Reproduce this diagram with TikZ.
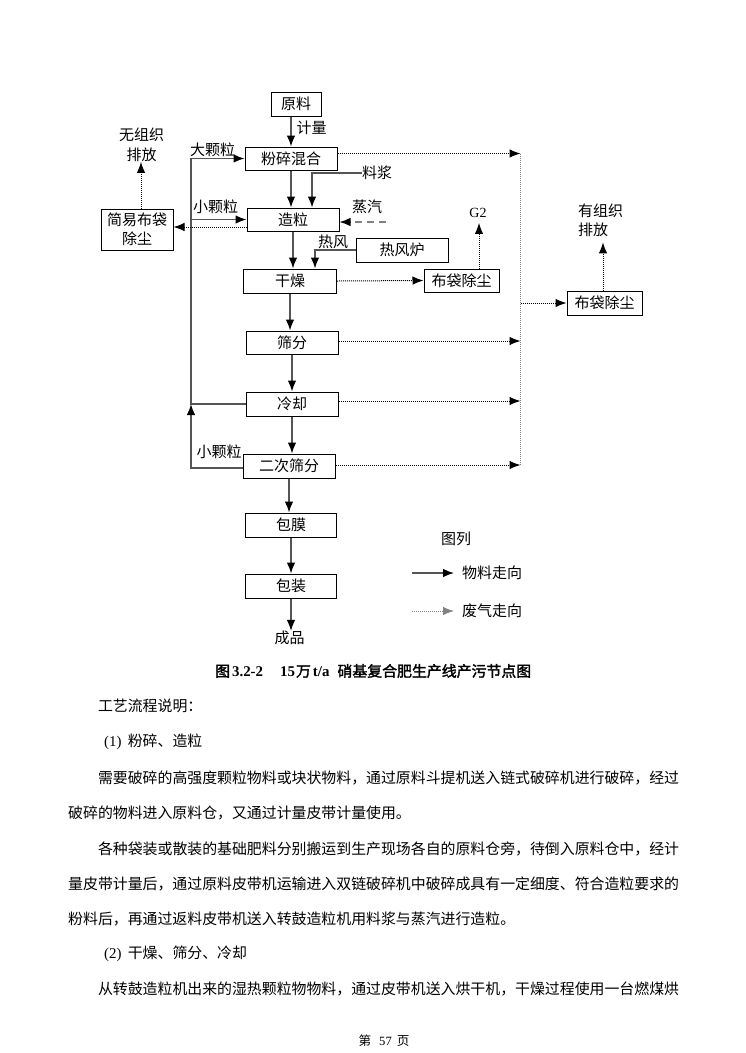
\documentclass[tikz,border=0pt]{standalone}
\usepackage{fontspec}
\setmainfont{Liberation Serif}
\newfontfamily\cjk{Noto Sans CJK SC}
\newfontfamily\cjkbold[FakeBold=2]{Noto Sans CJK SC}
\usepackage{tikz}
\usetikzlibrary{positioning, calc, arrows.meta}
\definecolor{lineGray}{RGB}{85,85,85}
\definecolor{dotGray}{RGB}{130,130,130}
\newcommand{\diagfont}{\cjk\fontsize{15}{19.5}\selectfont}
\newcommand{\bodyfont}{\cjk\fontsize{14.9}{17}\selectfont}
\tikzset{
  procBox/.style={draw=black, line width=1pt, minimum width=92pt, minimum height=24pt,
                  inner sep=0pt, font=\diagfont},
  tag/.style={inner sep=0pt, font=\diagfont},
  flowArrow/.style={draw=lineGray, line width=1.3pt, -{Latex[length=11pt,width=8.5pt,color=black]}},
  gasArrow/.style={draw=black, line width=1pt, dash pattern=on 1pt off 1pt,
                   -{Latex[length=11pt,width=8.5pt]}},
  dotLine/.style={draw=dotGray, line width=1.2pt, dash pattern=on 1pt off 1pt},
  bodyLine/.style={anchor=west, inner sep=0pt, font=\bodyfont},
}

\begin{document}
\begin{tikzpicture}[x=1pt, y=-1pt]
        \useasboundingbox (0,0) rectangle (745,1053);
        % main column
        \node[procBox, minimum width=50pt] (yuanliao) at (296,104) {原料};
        \node[procBox, minimum height=23pt] (fensui) at (291,158.5) {粉碎混合};
        \node[procBox, minimum height=23pt] (zaoli) at (293,219.5) {造粒};
        \node[procBox, minimum width=93pt] (ganzao) at (290,281) {干燥};
        \node[procBox, minimum height=23pt] (shaifen) at (292,342.5) {筛分};
        \node[procBox] (lengque) at (292,404) {冷却};
        \node[procBox] (erci) at (289,466) {二次筛分};
        \node[procBox, minimum width=91pt] (baomo) at (291,525) {包膜};
        \node[procBox, minimum width=91pt] (baozhuang) at (291,586) {包装};
        \node[tag] (chengpin) at (289.5,638) {成品};
        \node[tag] (jiliang) at (311.5,128) {计量};
        \draw[flowArrow] (yuanliao.south -| fensui.north) -- (fensui.north);
        \foreach \a/\b in {fensui/zaoli, zaoli/ganzao, ganzao/shaifen, shaifen/lengque,
                           lengque/erci, erci/baomo, baomo/baozhuang} {
          \draw[flowArrow] (\a.south) -- (\a.south |- \b.north);
        }
        \draw[flowArrow] (baozhuang.south) -- (baozhuang.south |- chengpin.north);

        % side feeds
        \node[tag] (liaojiang) at (377,173) {料浆};
        \draw[flowArrow] (liaojiang.west) -| ([xshift=19]zaoli.north);
        \node[tag] (zhengqi) at (367,207) {蒸汽};
        \coordinate (steam) at (386,222);
        \draw[draw=dotGray, line width=1.3pt, dash pattern=on 7pt off 5pt,
              -{Latex[length=11pt,width=8.5pt,color=black]}] (steam) -- (steam -| zaoli.east);
        \node[procBox, minimum width=92pt] (refenglu) at (402,250) {热风炉};
        \node[tag] (refeng) at (333,242) {热风};
        \draw[flowArrow] (refenglu.west) -| ([xshift=25]ganzao.north);

        % returns on the left
        \coordinate (ltop) at (191,158.5);
        \node[tag] (dakeli) at (212.5,150) {大颗粒};
        \node[tag] (xiaokeli) at (215.5,207) {小颗粒};
        \node[tag] (xiaokeli2) at (219,452) {小颗粒};
        \draw[flowArrow] (lengque.west) -| (ltop) -- (fensui.west);
        \draw[flowArrow] (ltop |- zaoli.west) -- (zaoli.west);
        \draw[flowArrow] ([yshift=-2]erci.west) -| (ltop |- lengque.west);

        % dust removal
        \node[procBox, minimum width=72pt, minimum height=41pt, align=center] (jybd) at (137,229.5) {简易布袋\\除尘};
        \node[tag, align=center] (wuzuzhi) at (141.5,145) {无组织\\排放};
        \draw[gasArrow] ([yshift=-7.5]zaoli.west) -- ([yshift=-7.5]zaoli.west -| jybd.east);
        \draw[gasArrow] ([xshift=4]jybd.north) -- ([xshift=4]jybd.north |- wuzuzhi.south);

        \node[procBox, minimum width=75pt, minimum height=23pt] (bdcc) at (461.5,280.5) {布袋除尘};
        \node[inner sep=0pt, font=\fontsize{14}{16}\selectfont] (gtwo) at (478,213) {G2};
        \draw[gasArrow] (ganzao.east) -- (bdcc.west);
        \draw[gasArrow, shorten >=5pt] ([xshift=17.5]bdcc.north) -- ([xshift=17.5]bdcc.north |- gtwo.south);

        \coordinate (collTop) at (520.5,153.5);
        \coordinate (collBot) at (520.5,465);
        \draw[dotLine] (collTop) -- (collBot);
        \foreach \n/\dy in {fensui/5, shaifen/1.5, lengque/3, erci/1} {
          \draw[gasArrow] ([yshift=\dy]\n.east) -- ([yshift=\dy]\n.east -| collTop);
        }
        \node[procBox, minimum width=75pt] (bdcr) at (604.5,303) {布袋除尘};
        \node[tag, align=left, anchor=west] (youzuzhi) at (578,220.5) {有组织\\排放};
        \draw[gasArrow] (collTop |- bdcr.west) -- (bdcr.west);
        \draw[gasArrow, shorten >=5pt] ([xshift=-1.5]bdcr.north) -- ([xshift=-1.5]bdcr.north |- youzuzhi.south);

        % legend
        \node[tag] (tuli) at (456,539) {图列};
        \node[tag, anchor=west] (wuliao) at (462,573) {物料走向};
        \node[tag, anchor=west] (feiqi) at (462,611) {废气走向};
        \coordinate (lgA) at (412,573);
        \coordinate (lgB) at (412,611);
        \draw[flowArrow] (lgA) -- ([xshift=-8]wuliao.west);
        \draw[gasArrow, draw=dotGray] (lgB) -- ([xshift=-8]feiqi.west);

        % caption and text
        \node[anchor=west, inner sep=0pt] (caption) at (215,671) {\cjkbold\fontsize{14.9}{17}\selectfont
          图\hspace{2pt}{\rmfamily\bfseries 3.2-2}\hspace{17pt}{\rmfamily\bfseries 15}\hspace{1pt}万\hspace{2pt}{\rmfamily\bfseries t/a}\hspace{8pt}硝基复合肥生产线产污节点图};
        \foreach \x/\y/\t in {97.8/706/工艺流程说明：,
            97.8/742/\makebox[29.8pt]{\rmfamily(1)}粉碎、造粒,
            97.8/778/需要破碎的高强度颗粒物料或块状物料，通过原料斗提机送入链式破碎机进行破碎，经过,
            68/813/破碎的物料进入原料仓，又通过计量皮带计量使用。,
            97.8/849/各种袋装或散装的基础肥料分别搬运到生产现场各自的原料仓旁，待倒入原料仓中，经计,
            68/884/量皮带计量后，通过原料皮带机运输进入双链破碎机中破碎成具有一定细度、符合造粒要求的,
            68/919/粉料后，再通过返料皮带机送入转鼓造粒机用料浆与蒸汽进行造粒。,
            97.8/954/\makebox[29.8pt]{\rmfamily(2)}干燥、筛分、冷却,
            97.8/989/从转鼓造粒机出来的湿热颗粒物物料，通过皮带机送入烘干机，干燥过程使用一台燃煤烘} {
          \node[bodyLine] at (\x,\y) {\t};
        }
        \node[inner sep=0pt] (pagenum) at (384,1041) {\cjk\fontsize{12.6}{14}\selectfont 第\hspace{8pt}{\rmfamily 57}\hspace{5pt}页};
      \end{tikzpicture}
\end{document}
